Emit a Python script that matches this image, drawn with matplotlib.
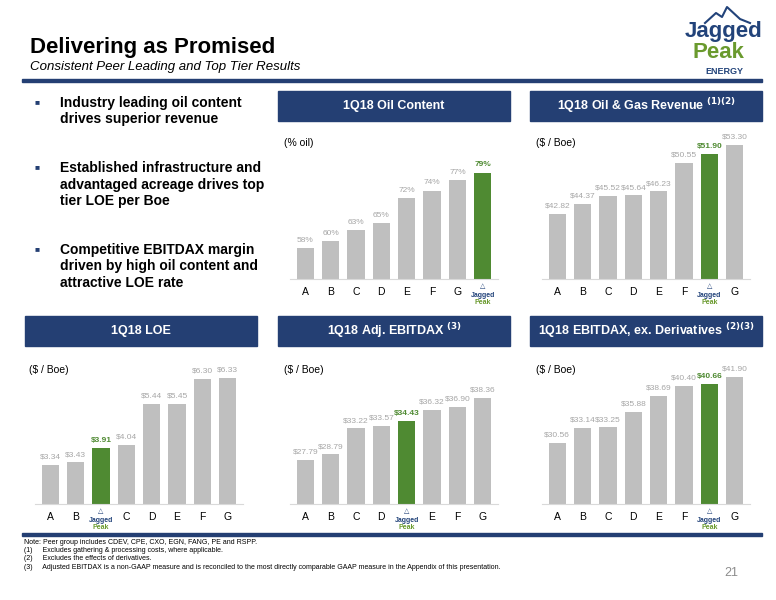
import matplotlib
matplotlib.use("Agg")
import matplotlib.pyplot as plt
from matplotlib.patches import Rectangle

plt.rcParams['font.family'] = ['Liberation Sans', 'DejaVu Sans']

W, H = 776, 600
NAVY = '#243F73'
GRAY = '#BFBFBF'
LGRAY = '#A6A6A6'
GREEN = '#4F8A32'
JP = 'JP'

oil_labels = ['A', 'B', 'C', 'D', 'E', 'F', 'G', JP]
oil_values = [58, 60, 63, 65, 72, 74, 77, 79]
oil_text = ['58%', '60%', '63%', '65%', '72%', '74%', '77%', '79%']

rev_labels = ['A', 'B', 'C', 'D', 'E', 'F', JP, 'G']
rev_values = [42.82, 44.37, 45.52, 45.64, 46.23, 50.55, 51.90, 53.30]

loe_labels = ['A', 'B', JP, 'C', 'D', 'E', 'F', 'G']
loe_values = [3.34, 3.43, 3.91, 4.04, 5.44, 5.45, 6.30, 6.33]

ebx_labels = ['A', 'B', 'C', 'D', JP, 'E', 'F', 'G']
ebx_values = [27.79, 28.79, 33.22, 33.57, 34.43, 36.32, 36.90, 38.36]

exd_labels = ['A', 'B', 'C', 'D', 'E', 'F', JP, 'G']
exd_values = [30.56, 33.14, 33.25, 35.88, 38.69, 40.40, 40.66, 41.90]

fig = plt.figure(figsize=(W/100, H/100), dpi=100)

def fx(x): return x / W
def fy(y): return 1 - y / H

def rect(x0, y0, x1, y1, color):
    fig.patches.append(Rectangle((fx(x0), fy(y1)), fx(x1) - fx(x0), fy(y0) - fy(y1),
                                 transform=fig.transFigure, color=color, zorder=0))

# Title
fig.text(fx(30), fy(47), 'Delivering as Promised', fontsize=16, fontweight='bold', va='center')
fig.text(fx(30), fy(67), 'Consistent Peer Leading and Top Tier Results', fontsize=9.5, style='italic', va='center')
rect(22, 79, 762, 82, NAVY)
rect(22, 533, 762, 536, NAVY)

# Logo
fig.text(fx(724), fy(31), 'Jagged', fontsize=16, fontweight='bold', color='#22437A', ha='center', va='center')
fig.text(fx(718), fy(53), 'Peak', fontsize=16, fontweight='bold', color='#6A9A2E', ha='center', va='center')
fig.text(fx(724), fy(71), 'ENERGY', fontsize=6.5, fontweight='bold', color='#22437A', ha='center', va='center')
fig.lines.append(plt.Line2D([fx(705), fx(716), fx(722), fx(727), fx(740), fx(750)],
                            [fy(23), fy(13), fy(17), fy(7), fy(19), fy(23)],
                            transform=fig.transFigure, color='#22437A', lw=1.5))

# Bullets
bullets = [(103, ['Industry leading oil content', 'drives superior revenue']),
           (168, ['Established infrastructure and', 'advantaged acreage drives top', 'tier LOE per Boe']),
           (250, ['Competitive EBITDAX margin', 'driven by high oil content and', 'attractive LOE rate'])]
for y0, lines in bullets:
    fig.text(fx(37), fy(y0), '\u25a0', fontsize=6, color=NAVY, va='center', ha='center')
    for i, ln in enumerate(lines):
        fig.text(fx(60), fy(y0 + i * 16.5), ln, fontsize=10, fontweight='bold', va='center')

def header(x0, x1, y0, title, sup=''):
    rect(x0, y0, x1, y0 + 30, NAVY)
    s = title if not sup else title + r' $^{\mathbf{' + sup + '}}$'
    fig.text(fx((x0 + x1) / 2), fy(y0 + 15), s, fontsize=9, fontweight='bold', color='white',
             ha='center', va='center')

def chart(x0, x1, ytop, ybase, labels, values, texts, ymin, ymax, ylab):
    ax = fig.add_axes([fx(x0), fy(ybase), fx(x1) - fx(x0), fy(ytop) - fy(ybase)])
    cols = [GREEN if l == JP else GRAY for l in labels]
    xs = list(range(len(values)))
    ax.bar(xs, values, width=0.68, color=cols)
    ax.set_ylim(ymin, ymax)
    ax.set_xlim(-0.6, len(values) - 0.4)
    ax.set_xticks(xs)
    ax.set_xticklabels(['' if l == JP else l for l in labels], fontsize=7.5)
    ax.tick_params(length=0, pad=6)
    ax.set_yticks([])
    for s in ['top', 'right', 'left']:
        ax.spines[s].set_visible(False)
    ax.spines['bottom'].set_color('#D9D9D9')
    for x, v, t, l in zip(xs, values, texts, labels):
        g = l == JP
        ax.annotate(t, (x, v), xytext=(0, 3), textcoords='offset points', ha='center', va='bottom',
                    fontsize=6, color=GREEN if g else LGRAY, fontweight='bold' if g else 'normal')
        if g:
            ax.annotate('Jagged', (x, ymin), xytext=(0, -9), textcoords='offset points',
                        ha='center', va='top', fontsize=5, fontweight='bold', color='#22437A',
                        annotation_clip=False)
            ax.annotate('Peak', (x, ymin), xytext=(0, -14.5), textcoords='offset points',
                        ha='center', va='top', fontsize=5, fontweight='bold', color='#6A9A2E',
                        annotation_clip=False)
            ax.annotate('\u25b3', (x, ymin), xytext=(0, -3), textcoords='offset points',
                        ha='center', va='top', fontsize=5, color='#22437A', annotation_clip=False)
    fig.text(fx(x0 - 6), fy(ytop + 8), ylab, fontsize=7.5, va='center')
    return ax

def money(vals):
    return ['$%.2f' % v for v in vals]

header(278, 510, 91, '1Q18 Oil Content')
header(530, 762, 91, '1Q18 Oil & Gas Revenue', '(1)(2)')
header(25, 257, 316, '1Q18 LOE')
header(278, 510, 316, '1Q18 Adj. EBITDAX', '(3)')
header(530, 762, 316, '1Q18 EBITDAX, ex. Derivatives', '(2)(3)')

chart(290, 498, 135, 279, oil_labels, oil_values, oil_text, 49.3, 89.5, '(% oil)')
chart(542, 750, 135, 279, rev_labels, rev_values, money(rev_values), 32.9, 54.8, '($ / Boe)')
chart(35, 243, 362, 504, loe_labels, loe_values, money(loe_values), 2.0, 6.88, '($ / Boe)')
chart(290, 498, 362, 504, ebx_labels, ebx_values, money(ebx_values), 20.3, 44.5, '($ / Boe)')
chart(542, 750, 362, 504, exd_labels, exd_values, money(exd_values), 20.1, 44.5, '($ / Boe)')

notes = ['Note: Peer group includes CDEV, CPE, CXO, EGN, FANG, PE and RSPP.',
         '(1)     Excludes gathering & processing costs, where applicable.',
         '(2)     Excludes the effects of derivatives.',
         '(3)     Adjusted EBITDAX is a non-GAAP measure and is reconciled to the most directly comparable GAAP measure in the Appendix of this presentation.']
for i, n in enumerate(notes):
    fig.text(fx(24), fy(542 + i * 8.5), n, fontsize=5, va='center')
fig.text(fx(738), fy(573), '21', fontsize=9, color='#8C8C8C', ha='right', va='center')

fig.savefig('out.png', dpi=100)
